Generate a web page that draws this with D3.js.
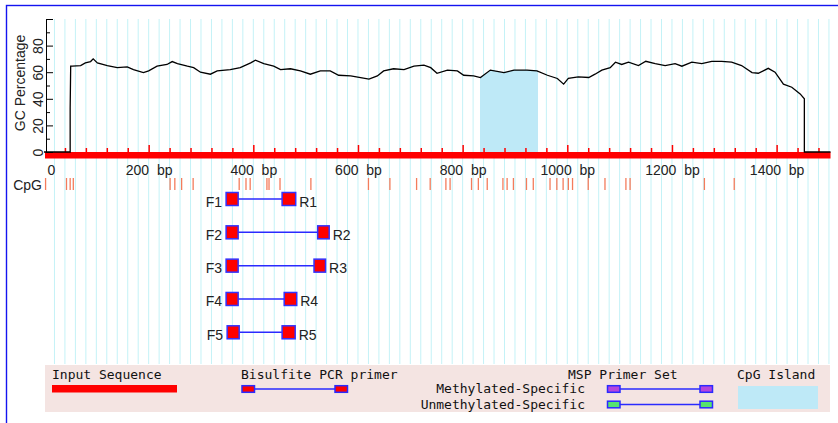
<!DOCTYPE html>
<html>
<head>
<meta charset="utf-8">
<script src="https://cdn.jsdelivr.net/npm/d3@7"></script>
<style>
  body { margin: 0; background: #fff; }
  svg { display: block; }
</style>
</head>
<body>
<div id="chart"></div>
<script>
// GC curve: position (bp) and GC percentage
const gcPos = [0, 50, 50, 51, 54, 70, 79, 89, 94, 102, 121, 140, 159, 171, 190, 200, 216, 235, 245, 255,
  274, 286, 299, 318, 331, 356, 375, 395, 404, 420, 439, 452, 471, 490, 509, 528, 547, 563, 586, 605,
  621, 637, 649, 668, 688, 707, 726, 739, 751, 771, 790, 802, 821, 834, 853, 879, 898, 923, 942, 962,
  981, 993, 1002, 1021, 1041, 1053, 1066, 1082, 1092, 1104, 1117, 1136, 1150, 1168, 1187, 1206, 1219,
  1238, 1257, 1276, 1295, 1314, 1333, 1353, 1365, 1384, 1397, 1413, 1429, 1445, 1453, 1453, 1503];
const gcVal = [0, 0, 33, 64.5, 64.5, 65, 67, 68, 70, 67, 65, 63.4, 64, 62, 59.7, 61, 64.5, 65.8, 68, 66.5,
  64.5, 63.4, 60, 58.5, 61, 62, 63.4, 67, 69, 66.5, 64.5, 62, 62.6, 61, 58.5, 61, 61, 57.7, 57.2, 56,
  54.8, 57.2, 61, 62.6, 62, 64.5, 65.3, 63.4, 59.2, 61.6, 61, 57.7, 57.2, 56, 61.6, 59.7, 61.6, 61.6, 61, 57.7,
  55.3, 51, 55.3, 56.5, 56, 58.5, 61.6, 63.4, 67.5, 65.8, 67.5, 65, 68.2, 66.5, 65, 66.5, 64.5,
  67.5, 66.5, 68.2, 68.2, 67.5, 65, 59.7, 59.2, 62.9, 60, 51, 48.7, 43.7, 40, 0, 0];

// CpG sites (bp)
const cpgSites = [3, 43, 50, 56, 241, 250, 263, 285, 373, 386, 394, 426, 430, 451, 510, 620, 661, 712,
  738, 768, 776, 817, 830, 847, 877, 885, 897, 922, 935, 967, 980, 992, 1002, 1010, 1040, 1072, 1112,
  1120, 1262, 1319];

const seqLength = 1503;
const island = [833, 944];

// bisulfite primer pairs (bp)
const primerIds = [1, 2, 3, 4, 5];
const fwdStart = [348, 348, 348, 348, 350];
const fwdEnd = [371, 371, 371, 371, 373];
const revStart = [455, 523, 516, 459, 455];
const revEnd = [481, 545, 538, 483, 480];

const xLabels = [0, 200, 400, 600, 800, 1000, 1200, 1400];
const yMajor = [0, 20, 40, 60, 80, 100];
const yMinor = [10, 30, 50, 70, 90];

const width = 838;
const height = 423;
const sans = "'Liberation Sans', Arial, sans-serif";
const mono = "'DejaVu Sans Mono', monospace";

const x = d3.scaleLinear().domain([0, seqLength]).range([44, 44 + 0.5233 * seqLength]);
const y = d3.scaleLinear().domain([0, 100]).range([152, 19]);
const row = d3.scalePoint().domain(primerIds).range([199, 332.3]);

const svg = d3.select("#chart").append("svg")
    .attr("width", width)
    .attr("height", height)
    .attr("font-family", sans);

// blue frame, runs off the right and bottom
svg.append("rect")
    .attr("x", 6.5).attr("y", 5.5)
    .attr("width", 900).attr("height", 500)
    .attr("fill", "#fff")
    .attr("stroke", "#1414f0")
    .attr("stroke-width", 1.4);

// light cyan grid every 20 bp
svg.append("g")
  .selectAll("line")
  .data(d3.range(20, seqLength, 20))
  .join("line")
    .attr("x1", d => x(d)).attr("x2", d => x(d))
    .attr("y1", y(100)).attr("y2", 364)
    .attr("stroke", "#c4f2f7")
    .attr("stroke-width", 1);

const gcData = d3.zip(gcPos, gcVal);

// cpg island = area under the curve, clipped to the island
svg.append("clipPath").attr("id", "islandClip")
  .append("rect")
    .attr("x", x(island[0])).attr("y", 0)
    .attr("width", x(island[1]) - x(island[0])).attr("height", height);

svg.append("path")
    .datum(gcData)
    .attr("clip-path", "url(#islandClip)")
    .attr("fill", "#bee9f7")
    .attr("d", d3.area().x(d => x(d[0])).y0(y(0)).y1(d => y(d[1])));

// input sequence bar with its ticks
svg.append("rect")
    .attr("x", x(0) + 1).attr("y", y(0))
    .attr("width", x(seqLength) - x(0) - 1).attr("height", 6.5)
    .attr("fill", "#ff0000");

const minorTicks = d3.range(40, seqLength, 40).filter(d => d % 200 !== 0);
const majorTicks = d3.range(200, seqLength, 200);

[[minorTicks, 4], [majorTicks, 7]].forEach(([vals, size]) => {
  const g = svg.append("g")
      .attr("transform", `translate(0,${y(0)})`)
      .call(d3.axisTop(x).tickValues(vals).tickSize(size).tickFormat(""));
  g.select(".domain").remove();
  g.selectAll("line").attr("stroke", "#ff0000").attr("stroke-width", 1.5);
});

// gc line
svg.append("path")
    .datum(gcData)
    .attr("fill", "none")
    .attr("stroke", "#000")
    .attr("stroke-width", 1.3)
    .attr("d", d3.line().x(d => x(d[0])).y(d => y(d[1])));

// y axis, ticks inward, labels rotated
const yG = svg.append("g")
    .attr("transform", "translate(46,0)")
    .call(d3.axisLeft(y).tickValues(yMajor).tickSize(-7).tickSizeOuter(0)
      .tickFormat(d => d === 100 ? "" : d));
svg.append("g")
    .attr("transform", "translate(46,0)")
    .call(d3.axisLeft(y).tickValues(yMinor).tickSize(-4).tickFormat(""))
    .select(".domain").remove();

yG.selectAll("text")
    .attr("x", null).attr("dy", null)
    .attr("text-anchor", "middle")
    .attr("transform", "translate(-3,0) rotate(-90)")
    .attr("font-size", 14)
    .attr("font-family", sans)
    .attr("fill", "#222");

svg.append("text")
    .attr("transform", `translate(25,${83}) rotate(-90)`)
    .attr("text-anchor", "middle")
    .attr("font-size", 14)
    .attr("fill", "#222")
    .text("GC Percentage");

// x labels
const xG = svg.append("g")
    .attr("transform", "translate(0,165)")
    .call(d3.axisBottom(x).tickValues(xLabels).tickSize(0).tickPadding(0)
      .tickFormat(d => d === 0 ? "0" : d + "\u00a0\u00a0bp"));
xG.select(".domain").remove();
xG.selectAll("text")
    .attr("font-size", 14)
    .attr("font-family", sans)
    .attr("fill", "#222")
    .filter(d => d === 0)
    .attr("text-anchor", "start")
    .attr("x", 3);

// cpg row
svg.append("text")
    .attr("x", 42).attr("y", 189.5)
    .attr("text-anchor", "end")
    .attr("font-size", 14)
    .attr("fill", "#222")
    .text("CpG");

svg.append("g")
  .selectAll("line")
  .data(cpgSites)
  .join("line")
    .attr("x1", d => x(d)).attr("x2", d => x(d))
    .attr("y1", 178).attr("y2", 190)
    .attr("stroke", "#f47c5c")
    .attr("stroke-width", 1.3);

// primer pairs
const primers = primerIds.map((id, i) => ({
  id, fs: fwdStart[i], fe: fwdEnd[i], rs: revStart[i], re: revEnd[i]
}));

const pg = svg.append("g")
  .selectAll("g")
  .data(primers)
  .join("g")
    .attr("transform", d => `translate(0,${row(d.id)})`);

pg.append("line")
    .attr("x1", d => x(d.fe)).attr("x2", d => x(d.rs))
    .attr("stroke", "#2a2aff")
    .attr("stroke-width", 1.5);

pg.selectAll("rect")
  .data(d => [[d.fs, d.fe], [d.rs, d.re]])
  .join("rect")
    .attr("x", d => x(d[0])).attr("y", -6.5)
    .attr("width", d => x(d[1]) - x(d[0])).attr("height", 13)
    .attr("fill", "#ff0000")
    .attr("stroke", "#3333ff")
    .attr("stroke-width", 1.5);

pg.append("text")
    .attr("x", d => x(d.fs) - 4).attr("y", 7.5)
    .attr("text-anchor", "end")
    .attr("font-size", 14)
    .attr("fill", "#222")
    .text(d => "F" + d.id);

pg.append("text")
    .attr("x", d => x(d.re) + 3.5).attr("y", 7.5)
    .attr("font-size", 14)
    .attr("fill", "#222")
    .text(d => "R" + d.id);

// legend
const lg = svg.append("g").attr("font-family", mono).attr("font-size", 13).attr("fill", "#111");

lg.append("rect")
    .attr("x", 45).attr("y", 365)
    .attr("width", 785).attr("height", 47)
    .attr("fill", "#f4e4e2");

lg.append("text").attr("x", 52).attr("y", 379).text("Input Sequence");
lg.append("rect")
    .attr("x", 52).attr("y", 385)
    .attr("width", 125).attr("height", 7.5)
    .attr("fill", "#ff0000");

// small primer pair sample: two boxes joined by a line
function pairSample(cy, fill) {
  lg.append("line")
      .attr("x1", this.x1).attr("x2", this.x2)
      .attr("y1", cy).attr("y2", cy)
      .attr("stroke", "#2a2aff").attr("stroke-width", 1.3);
  [this.b1, this.b2].forEach(bx => {
    lg.append("rect")
        .attr("x", bx).attr("y", cy - 3.3)
        .attr("width", this.w).attr("height", 6.6)
        .attr("fill", fill)
        .attr("stroke", "#2a2aff").attr("stroke-width", 1.5);
  });
}

lg.append("text").attr("x", 241).attr("y", 379).text("Bisulfite PCR primer");
pairSample.call({x1: 255, x2: 335, b1: 242, b2: 335, w: 12.5}, 389, "#ff0000");

lg.append("text").attr("x", 568).attr("y", 379).text("MSP Primer Set");
lg.append("text").attr("x", 585).attr("y", 393).attr("text-anchor", "end").text("Methylated-Specific");
lg.append("text").attr("x", 585).attr("y", 408.5).attr("text-anchor", "end").text("Unmethylated-Specific");
pairSample.call({x1: 620, x2: 700, b1: 607.5, b2: 700, w: 12.5}, 389, "#b446dc");
pairSample.call({x1: 620, x2: 700, b1: 607.5, b2: 700, w: 12.5}, 404.5, "#55e36e");

lg.append("text").attr("x", 737).attr("y", 379).text("CpG Island");
lg.append("rect")
    .attr("x", 738).attr("y", 386)
    .attr("width", 80).attr("height", 23)
    .attr("fill", "#bee9f7");
</script>
</body>
</html>
